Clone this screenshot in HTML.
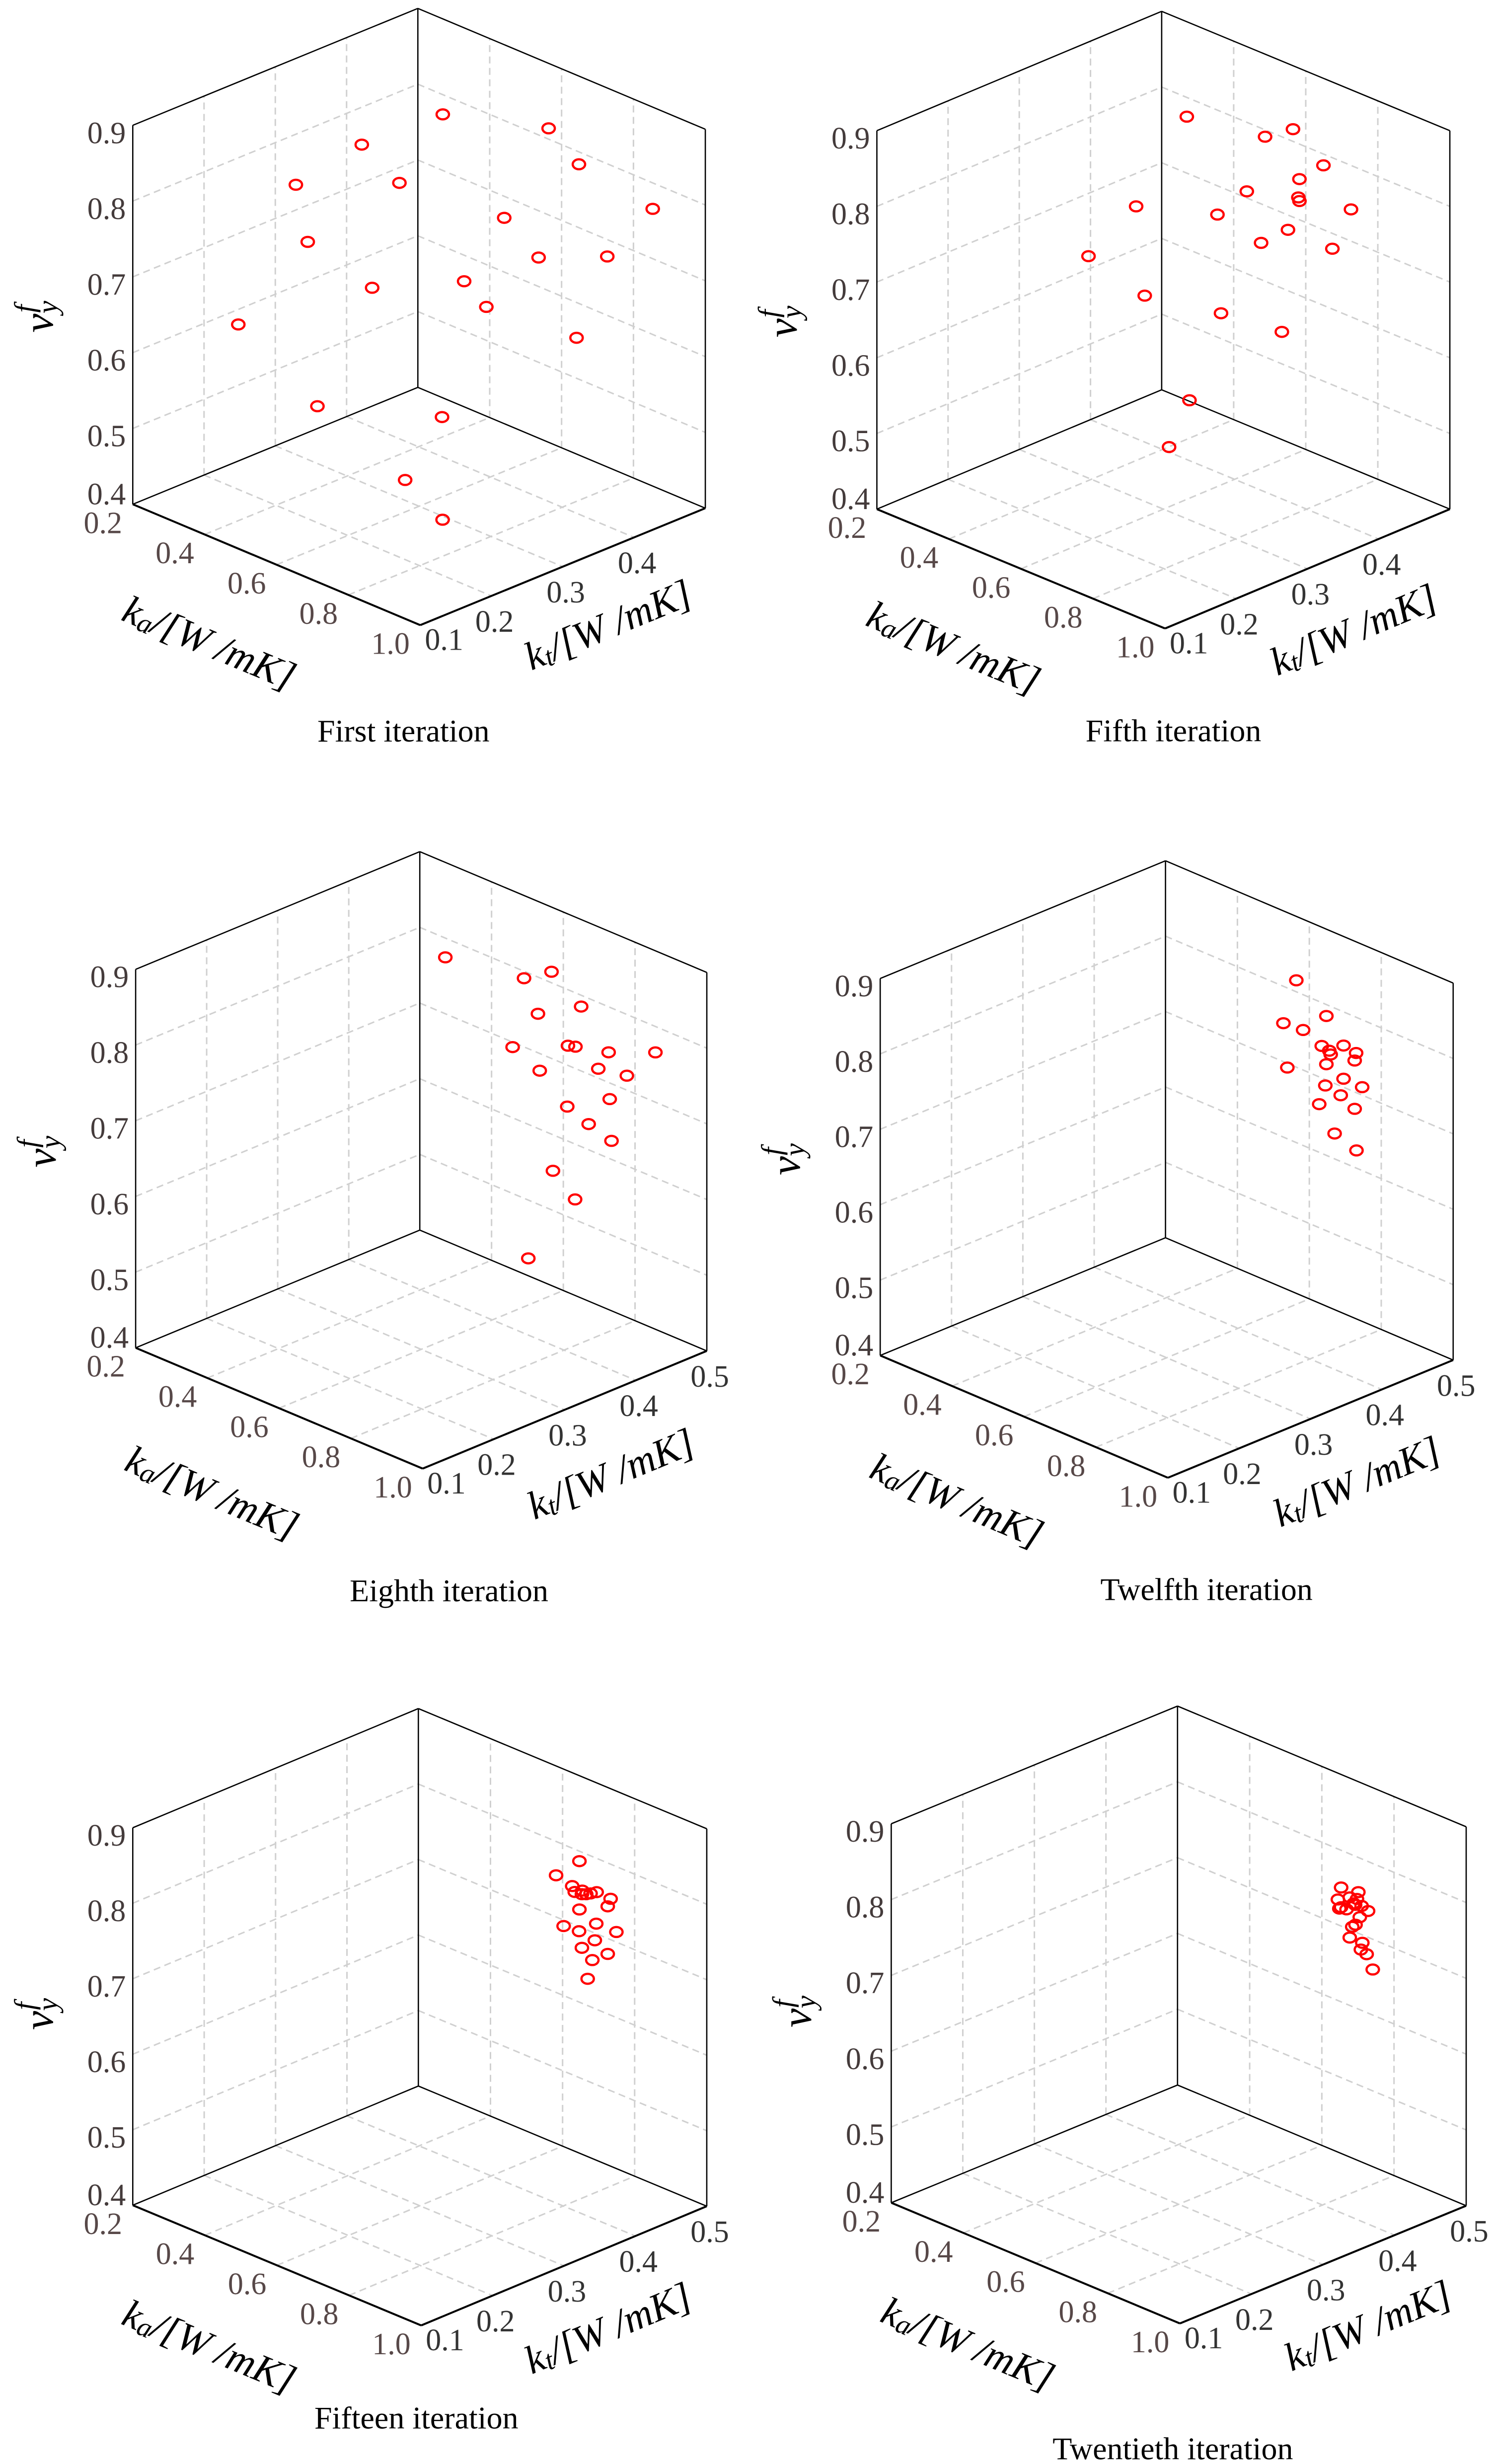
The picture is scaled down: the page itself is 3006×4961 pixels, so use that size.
<!DOCTYPE html>
<html>
<head>
<meta charset="utf-8">
<style>
  html,body{margin:0;padding:0;background:#fff;}
  svg{display:block;}
  text{font-family:"Liberation Serif","DejaVu Serif",serif;}
</style>
</head>
<body>
<svg id="fig" xmlns="http://www.w3.org/2000/svg" width="3006" height="4961" viewBox="0 0 3006 4961">
  <rect x="0" y="0" width="3006" height="4961" fill="#fff"/>
</svg>
<script>
// ---- data (ka, kt, vy per iteration panel) ----
const zTicks = [0.4, 0.5, 0.6, 0.7, 0.8, 0.9];
const kaTicks = [0.2, 0.4, 0.6, 0.8, 1.0];
const ktTicks = [0.1, 0.2, 0.3, 0.4, 0.5];
const zTickLabels = ["0.4","0.5","0.6","0.7","0.8","0.9"];
const kaTickLabels = ["0.2","0.4","0.6","0.8","1.0"];
const ktTickLabels = ["0.1","0.2","0.3","0.4","0.5"];
const panelTitles = ["First iteration","Fifth iteration","Eighth iteration","Twelfth iteration","Fifteen iteration","Twentieth iteration"];

const p1Ka = [0.432,0.675,0.799,0.933,0.726,0.774,0.870,0.670,0.700,0.826,0.668,0.724,0.840,0.389,0.480,0.410,0.445,0.535,0.347,0.458];
const p1Kt = [0.418,0.444,0.424,0.460,0.356,0.380,0.428,0.328,0.344,0.407,0.298,0.218,0.212,0.326,0.333,0.223,0.222,0.267,0.174,0.229];
const p1Vy = [0.838,0.858,0.843,0.797,0.784,0.732,0.734,0.700,0.666,0.626,0.532,0.491,0.464,0.825,0.790,0.816,0.748,0.688,0.638,0.531];

const p2Ka = [0.586,0.742,0.776,0.823,0.790,0.789,0.790,0.717,0.675,0.862,0.774,0.737,0.836,0.562,0.495,0.574,0.681,0.765,0.637,0.608];
const p2Kt = [0.340,0.371,0.393,0.412,0.395,0.394,0.395,0.358,0.338,0.431,0.387,0.368,0.418,0.281,0.248,0.287,0.340,0.383,0.318,0.304];
const p2Vy = [0.900,0.892,0.900,0.854,0.836,0.812,0.807,0.820,0.789,0.796,0.769,0.752,0.744,0.800,0.734,0.682,0.659,0.634,0.544,0.482];

const p3Ka = [0.588,0.744,0.783,0.824,0.763,0.728,0.805,0.816,0.863,0.928,0.766,0.848,0.888,0.864,0.805,0.835,0.867,0.785,0.815,0.750];
const p3Kt = [0.340,0.372,0.391,0.412,0.382,0.364,0.403,0.408,0.431,0.464,0.383,0.424,0.444,0.432,0.402,0.417,0.433,0.392,0.408,0.375];
const p3Vy = [0.900,0.891,0.900,0.854,0.844,0.800,0.802,0.801,0.794,0.794,0.769,0.772,0.763,0.732,0.722,0.699,0.677,0.637,0.599,0.521];

const p4Ka = [0.776,0.818,0.758,0.785,0.811,0.842,0.822,0.824,0.859,0.857,0.818,0.763,0.842,0.817,0.868,0.838,0.808,0.857,0.829,0.860];
const p4Kt = [0.393,0.414,0.384,0.398,0.411,0.426,0.416,0.417,0.435,0.434,0.414,0.387,0.426,0.413,0.439,0.424,0.409,0.434,0.420,0.435];
const p4Vy = [0.900,0.853,0.843,0.834,0.813,0.814,0.807,0.802,0.804,0.794,0.789,0.784,0.770,0.761,0.759,0.748,0.736,0.730,0.697,0.675];

const p5Ka = [0.823,0.790,0.813,0.816,0.827,0.832,0.838,0.847,0.866,0.862,0.823,0.846,0.801,0.822,0.874,0.844,0.826,0.862,0.841,0.834,0.826];
const p5Kt = [0.411,0.395,0.406,0.408,0.413,0.416,0.419,0.423,0.433,0.431,0.411,0.423,0.400,0.411,0.437,0.422,0.413,0.431,0.420,0.417,0.413];
const p5Vy = [0.857,0.838,0.824,0.816,0.818,0.813,0.814,0.816,0.807,0.797,0.793,0.774,0.771,0.764,0.763,0.752,0.742,0.734,0.726,0.701,0.813];

const p6Ka = [0.826,0.821,0.823,0.838,0.850,0.848,0.845,0.855,0.863,0.833,0.852,0.846,0.841,0.838,0.855,0.853,0.861,0.870,0.843,0.826];
const p6Kt = [0.413,0.411,0.412,0.419,0.425,0.424,0.423,0.427,0.432,0.417,0.426,0.423,0.421,0.419,0.428,0.427,0.431,0.435,0.422,0.413];
const p6Vy = [0.819,0.803,0.791,0.806,0.813,0.804,0.796,0.795,0.788,0.790,0.780,0.770,0.767,0.753,0.746,0.737,0.731,0.711,0.798,0.793];

// ---- panel geometry (layout, not data) ----
const panels = [
  {L:[267.3,1015.3], A:[578.8,243.3], B:[574.0,-235.4], H:763, title:[545,456], sx:0.962, sy:0.981, kt5:false, ka:p1Ka, kt:p1Kt, vy:p1Vy},
  {L:[1765.5,1025.1], A:[580.2,240.3], B:[573.4,-240.3], H:762, title:[597,446], sx:0.965, sy:0.981, kt5:false, ka:p2Ka, kt:p2Kt, vy:p2Vy},
  {L:[273.1,2713.7], A:[577.9,243.2], B:[572.1,-237], H:762, title:[631,489], sx:0.962, sy:1.026, kt5:true, ka:p3Ka, kt:p3Kt, vy:p3Vy},
  {L:[1772.2,2729.1], A:[579.2,246.2], B:[574.4,-237], H:759, title:[657,471], sx:0.965, sy:1.026, kt5:true, ka:p4Ka, kt:p4Kt, vy:p4Vy},
  {L:[267.3,4440], A:[580.7,242], B:[575,-240], H:760, title:[571,428], sx:0.962, sy:1.0, kt5:true, ka:p5Ka, kt:p5Kt, vy:p5Vy},
  {L:[1794.4,4435], A:[581.2,243], B:[576.4,-237], H:763, title:[567,495], sx:0.965, sy:1.0, kt5:true, ka:p6Ka, kt:p6Kt, vy:p6Vy}
];

const NS = "http://www.w3.org/2000/svg";
const svg = document.getElementById("fig");
function mk(tag, attrs, parent){
  const e = document.createElementNS(NS, tag);
  for (const k in attrs) e.setAttribute(k, attrs[k]);
  (parent||svg).appendChild(e);
  return e;
}
function kaF(v){return (v-0.2)/0.8;}
function ktF(v){return (v-0.1)/0.4;}
function zF(v){return (v-0.4)/0.5;}
function proj(g, ka, kt, z){
  const a = kaF(ka), b = ktF(kt), c = zF(z);
  return [g.L[0] + g.A[0]*a + g.B[0]*b, g.L[1] + g.A[1]*a + g.B[1]*b - g.H*c];
}
function line(g, p, q, parent, style){
  return mk("line", Object.assign({x1:p[0].toFixed(1), y1:p[1].toFixed(1), x2:q[0].toFixed(1), y2:q[1].toFixed(1)}, style), parent);
}
const gridStyle = {stroke:"#d0d0d0", "stroke-width":"3", "stroke-dasharray":"14 9", fill:"none"};
const boxStyle = {stroke:"#000", "stroke-width":"2.6"};
const axisStyle = {stroke:"#000", "stroke-width":"4"};

panels.forEach((g, pi) => {
  const grp = mk("g", {});
  
  
  const KA0=0.2, KA1=1.0, KT0=0.1, KT1=0.5, Z0=0.4, Z1=0.9;

  const grid = mk("g", {}, grp);
  
  
  zTicks.forEach(z => {
    if (z <= Z0 || z >= Z1) return;
    line(g, proj(g,KA0,KT0,z), proj(g,KA0,KT1,z), grid, gridStyle);
    line(g, proj(g,KA0,KT1,z), proj(g,KA1,KT1,z), grid, gridStyle);
  });
  ktTicks.forEach(t => {
    if (t <= KT0 || t >= KT1) return;
    line(g, proj(g,KA0,t,Z0), proj(g,KA0,t,Z1), grid, gridStyle);
    line(g, proj(g,KA0,t,Z0), proj(g,KA1,t,Z0), grid, gridStyle);
  });
  kaTicks.forEach(k => {
    if (k <= KA0 || k >= KA1) return;
    line(g, proj(g,k,KT1,Z0), proj(g,k,KT1,Z1), grid, gridStyle);
    line(g, proj(g,k,KT0,Z0), proj(g,k,KT1,Z0), grid, gridStyle);
  });

  const box = mk("g", {}, grp);
  
  
  const lb=proj(g,KA0,KT0,Z0), lt=proj(g,KA0,KT0,Z1), bb=proj(g,KA0,KT1,Z0), bt=proj(g,KA0,KT1,Z1);
  const rb=proj(g,KA1,KT1,Z0), rt=proj(g,KA1,KT1,Z1), fb=proj(g,KA1,KT0,Z0);
  [[lb,lt],[bb,bt],[rb,rt],[lt,bt],[bt,rt],[bb,lb],[bb,rb]].forEach(s => line(g, s[0], s[1], box, boxStyle));
  const kaAxis = line(g, lb, fb, box, axisStyle);
  
  
  const ktAxis = line(g, fb, rb, box, axisStyle);
  
  

  zTicks.forEach((z, i) => {
    const p = proj(g,KA0,KT0,z);
    const dy = (i === 0) ? -20 : 16;
    const t = mk("text", {x:(p[0]-14).toFixed(1), y:(p[1]+dy).toFixed(1), "text-anchor":"end", "dominant-baseline":"central", "font-size":"62", fill:"#443b3b"}, grp);
    t.textContent = zTickLabels[i];
    
    
  });
  kaTicks.forEach((k, i) => {
    const p = proj(g,k,KT0,Z0);
    const t = mk("text", {x:(p[0]-60).toFixed(1), y:(p[1]+38).toFixed(1), "text-anchor":"middle", "dominant-baseline":"central", "font-size":"62", fill:"#574848"}, grp);
    t.textContent = kaTickLabels[i];
    
    
  });
  ktTicks.forEach((k, i) => {
    if (!g.kt5 && k >= KT1) return;
    const p = proj(g,KA1,k,Z0);
    const off = (i === 0) ? [48, 30] : [6, 52];
    const t = mk("text", {x:(p[0]+off[0]).toFixed(1), y:(p[1]+off[1]).toFixed(1), "text-anchor":"middle", "dominant-baseline":"central", "font-size":"62", fill:"#333"}, grp);
    t.textContent = ktTickLabels[i];
    
    
  });

  const angA = Math.atan2(g.A[1], g.A[0]) * 180 / Math.PI;
  const angB = Math.atan2(g.B[1], g.B[0]) * 180 / Math.PI;
  const kx = g.L[0] + 160*g.sx, ky = g.L[1] + 285*g.sy;
  const kaT = mk("text", {x:kx.toFixed(1), y:ky.toFixed(1), "text-anchor":"middle", "dominant-baseline":"central", "font-size":"80", "font-style":"italic", fill:"#000", transform:`rotate(${angA.toFixed(1)} ${kx.toFixed(1)} ${ky.toFixed(1)})`}, grp);
  kaT.innerHTML = 'k<tspan font-size="56" dy="14">a</tspan><tspan dy="-14">/[W /mK]</tspan>';
  
  
  const tx = g.L[0] + 995*g.sx, ty = g.L[1] + 248*g.sy;
  const ktT = mk("text", {x:tx.toFixed(1), y:ty.toFixed(1), "text-anchor":"middle", "dominant-baseline":"central", "font-size":"80", "font-style":"italic", fill:"#000", transform:`rotate(${angB.toFixed(1)} ${tx.toFixed(1)} ${ty.toFixed(1)})`}, grp);
  ktT.innerHTML = 'k<tspan font-size="56" dy="14">t</tspan><tspan dy="-14">/[W /mK]</tspan>';
  
  
  const vx = g.L[0] - 198*g.sx, vyy = g.L[1] - 385*g.sy;
  const vT = mk("text", {x:vx.toFixed(1), y:vyy.toFixed(1), "text-anchor":"middle", "dominant-baseline":"central", "font-size":"86", "font-style":"italic", fill:"#000", transform:`rotate(-90 ${vx.toFixed(1)} ${vyy.toFixed(1)})`}, grp);
  vT.innerHTML = 'v<tspan font-size="58" dy="18">y</tspan><tspan font-size="58" dx="-24" dy="-46">f</tspan>';
  
  

  const ttl = mk("text", {x:(g.L[0]+g.title[0]).toFixed(1), y:(g.L[1]+g.title[1]).toFixed(1), "text-anchor":"middle", "dominant-baseline":"central", "font-size":"64", fill:"#000"}, grp);
  ttl.textContent = panelTitles[pi];
  
  

  const pts = mk("g", {}, grp);
  
  
  for (let i = 0; i < g.ka.length; i++) {
    const p = proj(g, g.ka[i], g.kt[i], g.vy[i]);
    const e = mk("ellipse", {cx:p[0].toFixed(1), cy:p[1].toFixed(1), rx:"12.5", ry:"10", fill:"none", stroke:"#ff0000", "stroke-width":"4.5"}, pts);
    
    
  }
});
</script>
</body>
</html>
